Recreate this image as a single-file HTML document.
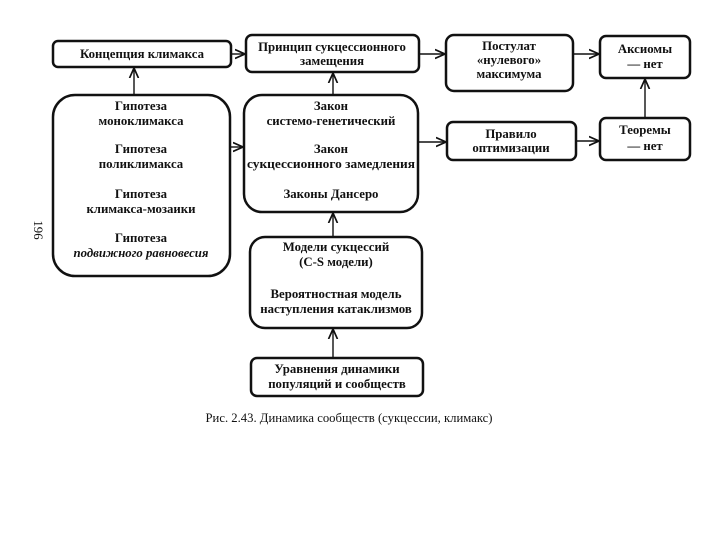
<!DOCTYPE html>
<html><head><meta charset="utf-8"><style>
body{margin:0;background:#fff}
svg{display:block}
text{font-family:"Liberation Serif","Noto Serif CJK SC",serif;font-weight:bold;font-size:12.8px;fill:#111;text-anchor:middle}
</style></head><body>
<svg width="720" height="540" viewBox="0 0 720 540" xmlns="http://www.w3.org/2000/svg">
<defs><marker id="a" viewBox="0 0 10 10" refX="9" refY="5" markerWidth="8" markerHeight="8" orient="auto"><path d="M0,1 L9,5 L0,9" fill="none" stroke="#111" stroke-width="1.5"/></marker></defs>
<g fill="none" stroke="#111" stroke-width="2.5">
<rect x="53" y="41" width="178" height="26" rx="5"/>
<rect x="246" y="35" width="173" height="37" rx="6"/>
<rect x="446" y="35" width="127" height="56" rx="8"/>
<rect x="600" y="36" width="90" height="42" rx="6"/>
<rect x="53" y="95" width="177" height="181" rx="22"/>
<rect x="244" y="95" width="174" height="117" rx="18"/>
<rect x="447" y="122" width="129" height="38" rx="6"/>
<rect x="600" y="118" width="90" height="42" rx="6"/>
<rect x="250" y="237" width="172" height="91" rx="15"/>
<rect x="251" y="358" width="172" height="38" rx="6"/>
</g>
<g stroke="#111" stroke-width="1.4" marker-end="url(#a)">
<line x1="232" y1="54" x2="245" y2="54"/>
<line x1="420" y1="54" x2="445" y2="54"/>
<line x1="574" y1="54" x2="599" y2="54"/>
<line x1="134" y1="95" x2="134" y2="68"/>
<line x1="333" y1="95" x2="333" y2="73"/>
<line x1="231" y1="147" x2="243" y2="147"/>
<line x1="419" y1="142" x2="446" y2="142"/>
<line x1="577" y1="141" x2="599" y2="141"/>
<line x1="645" y1="118" x2="645" y2="79"/>
<line x1="333" y1="237" x2="333" y2="213"/>
<line x1="333" y1="358" x2="333" y2="329"/>
</g>
<text x="142" y="58">Концепция климакса</text>
<text x="332" y="51">Принцип сукцессионного</text>
<text x="332" y="65">замещения</text>
<text x="509" y="50">Постулат</text>
<text x="509" y="64">«нулевого»</text>
<text x="509" y="78">максимума</text>
<text x="645" y="53">Аксиомы</text>
<text x="645" y="68">— нет</text>
<text x="141" y="110">Гипотеза</text>
<text x="141" y="125">моноклимакса</text>
<text x="141" y="153">Гипотеза</text>
<text x="141" y="168">поликлимакса</text>
<text x="141" y="198">Гипотеза</text>
<text x="141" y="213">климакса-мозаики</text>
<text x="141" y="242">Гипотеза</text>
<text x="141" y="257" font-style="italic">подвижного равновесия</text>
<text x="331" y="110">Закон</text>
<text x="331" y="125">системо-генетический</text>
<text x="331" y="153">Закон</text>
<text x="331" y="168" textLength="168" lengthAdjust="spacingAndGlyphs">сукцессионного замедления</text>
<text x="331" y="198">Законы Дансеро</text>
<text x="511" y="138">Правило</text>
<text x="511" y="152">оптимизации</text>
<text x="645" y="134">Теоремы</text>
<text x="645" y="150">— нет</text>
<text x="336" y="251">Модели сукцессий</text>
<text x="336" y="266">(C-S модели)</text>
<text x="336" y="298">Вероятностная модель</text>
<text x="336" y="313">наступления катаклизмов</text>
<text x="337" y="373">Уравнения динамики</text>
<text x="337" y="388">популяций и сообществ</text>
<text x="349" y="422" style="font-weight:normal;font-size:12.5px" textLength="287" lengthAdjust="spacingAndGlyphs">Рис. 2.43. Динамика сообществ (сукцессии, климакс)</text>
<text x="0" y="0" transform="translate(34,230) rotate(90)" style="font-weight:normal">196</text>
</svg>
</body></html>
